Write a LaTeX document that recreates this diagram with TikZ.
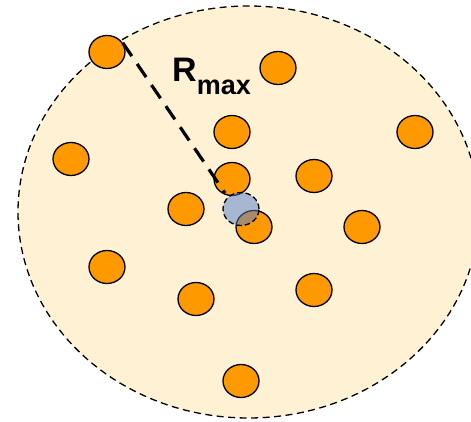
\documentclass[tikz,border=0pt]{standalone}
\usepackage{fontspec}
\setmainfont{Liberation Sans}
\usetikzlibrary{shapes.geometric}
\definecolor{cream}{HTML}{FFF2D4}
\definecolor{orng}{HTML}{FF9900}
\definecolor{bluec}{RGB}{82,126,208}
\tikzset{
  dot/.style={ellipse, draw=black, line width=1.3pt, fill=orng, minimum width=36pt, minimum height=33pt, inner sep=0pt},
  probe/.style={ellipse, draw=black, line width=1.3pt, dash pattern=on 5.5pt off 3pt, fill=bluec, fill opacity=0.5, draw opacity=1, minimum width=36pt, minimum height=33pt, inner sep=0pt},
  region/.style={draw=black, line width=1.3pt, dash pattern=on 7pt off 4.5pt, fill=cream},
  radius line/.style={line width=3.2pt, dash pattern=on 16pt off 9.5pt}
}
\begin{document}
\begin{tikzpicture}[x=1pt,y=-1pt]
\useasboundingbox (0,0) rectangle (471,422);
\draw[region] (248.5,212) ellipse [x radius=230.5, y radius=206];
\node[dot] (p1) at (107,52) {};
\node[dot] (p2) at (278,68) {};
\node[dot] (p3) at (232,132) {};
\node[dot] (p4) at (415,132) {};
\node[dot] (p5) at (71,159) {};
\node[dot] (p6) at (232,179) {};
\node[dot] (p7) at (314,176) {};
\node[dot] (p8) at (186,209) {};
\node[dot] (p9) at (254,227) {};
\node[dot] (p10) at (362,227) {};
\node[dot] (p11) at (107,267) {};
\node[dot] (p12) at (196,299) {};
\node[dot] (p13) at (314,290) {};
\node[dot] (p14) at (241,381) {};
\coordinate (rend) at (225,193);
\draw[radius line] (p1.30) -- (rend);
\node[probe] (probe) at (241,209) {};
\node[anchor=base west, inner sep=0pt] (label) at (172,82) {\fontsize{34}{34}\selectfont\bfseries R\raisebox{-13pt}{\fontsize{27}{27}\selectfont max}};
\end{tikzpicture}
\end{document}
